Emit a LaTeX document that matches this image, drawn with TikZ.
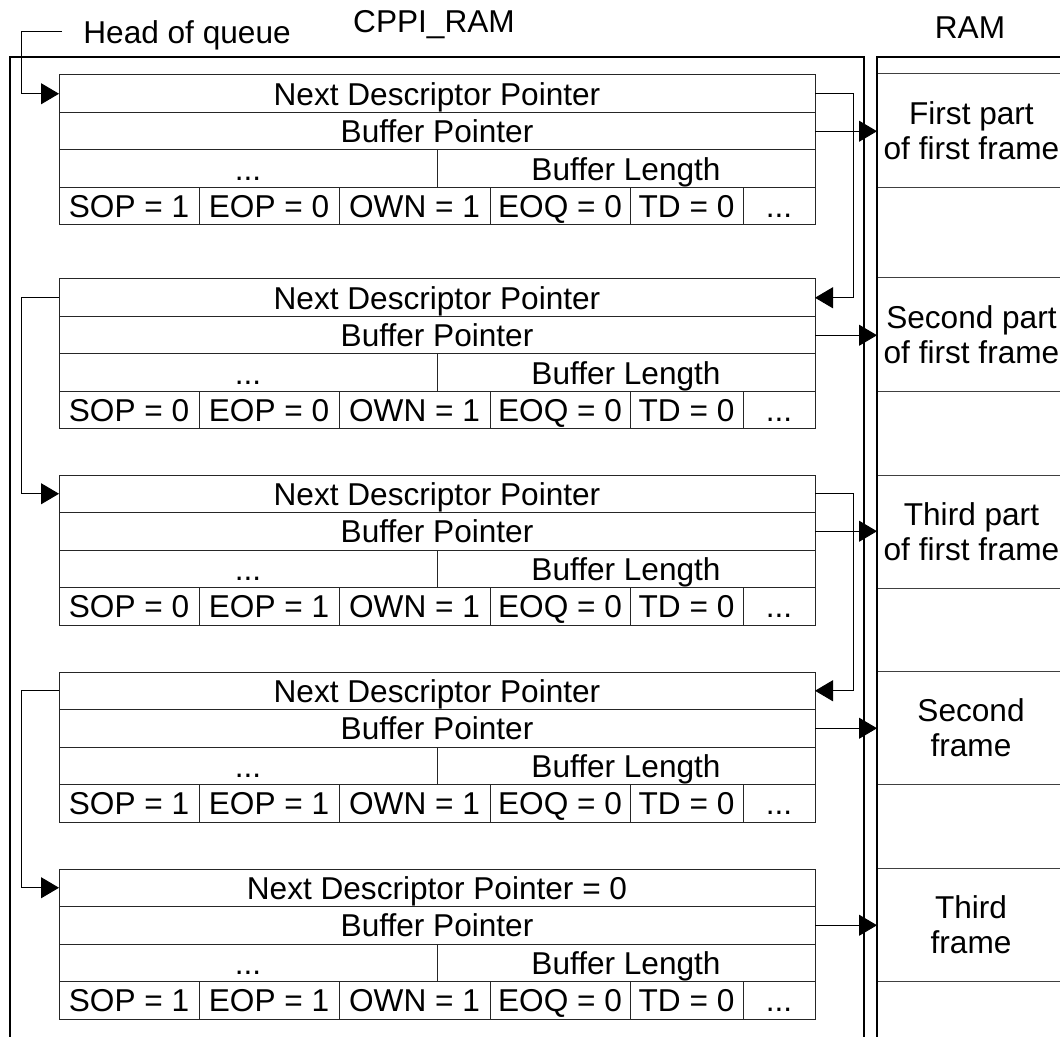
\documentclass[tikz,border=0pt]{standalone}
\usepackage{fontspec}
\setmainfont{Liberation Sans}
\usepackage{tikz}
\usetikzlibrary{arrows.meta,positioning}

\begin{document}
\begin{tikzpicture}[
		x=0.5pt, y=-0.5pt,
		font=\fontsize{15.8}{17.5}\selectfont,
		>={Triangle[length=9pt,width=10.5pt]},
		cell/.style={draw=black!85, line width=0.5pt, outer sep=0pt, inner sep=2pt, minimum height=18.75pt, text height=11.3pt, text depth=0pt},
		region/.style={draw=black!75, line width=0.5pt, outer sep=0pt, anchor=north west, minimum width=94pt, minimum height=56.75pt, align=center},
		wall/.style={draw, line width=1.25pt, outer sep=0pt, anchor=north west, minimum height=510pt},
		lbl/.style={inner sep=0pt},
		flow/.style={->, line width=0.5pt}
		]
		\clip (0,0) rectangle (1060,1037);
		
		\foreach \i/\top/\ndp/\sop/\eop in {1/75/{Next Descriptor Pointer}/1/0, 2/279/{Next Descriptor Pointer}/0/0, 3/475/{Next Descriptor Pointer}/0/1, 4/672/{Next Descriptor Pointer}/1/1, 5/869/{Next Descriptor Pointer = 0}/1/1}{
			\node[cell, minimum width=378pt, anchor=north west] (d\i-ndp) at (59,\top) {\ndp};
			\node[cell, minimum width=378pt, below=0pt of d\i-ndp] (d\i-bp) {Buffer Pointer};
			\node[cell, minimum width=189pt, anchor=north west] (d\i-dots) at (d\i-bp.south west) {...};
			\node[cell, minimum width=189pt, right=0pt of d\i-dots] (d\i-len) {Buffer Length};
			\node[cell, minimum width=70pt, anchor=north west] (d\i-sop) at (d\i-dots.south west) {SOP = \sop};
			\node[cell, minimum width=70pt, right=0pt of d\i-sop] (d\i-eop) {EOP = \eop};
			\node[cell, minimum width=75.5pt, right=0pt of d\i-eop] (d\i-own) {OWN = 1};
			\node[cell, minimum width=70pt, right=0pt of d\i-own] (d\i-eoq) {EOQ = 0};
			\node[cell, minimum width=56.5pt, right=0pt of d\i-eoq] (d\i-td) {TD = 0};
			\node[cell, minimum width=36pt, right=0pt of d\i-td] (d\i-more) {...};
		}
		
		\foreach \j/\top/\txt in {1/74/{First part\\of first frame}, 2/278/{Second part\\of first frame}, 3/475/{Third part\\of first frame}, 4/671/{Second\\frame}, 5/868/{Third\\frame}}{
			\node[region] (ram\j) at (877,\top) {\txt};
		}
		
		\node[wall, minimum width=427pt] (cppi) at (10,57) {};
		\node[wall, minimum width=120pt] (ram) at (877,57) {};
		
		\node[lbl, anchor=base] (cppilbl) at (434,33) {CPPI\_RAM};
		\node[lbl, anchor=base] (ramlbl) at (970,39) {RAM};
		\node[lbl, anchor=base west] (hq) at (83,44) {Head of queue};
		\coordinate (hqstart) at (62,32);
		
		\draw[flow] (hqstart) -- ++(-41,0) |- (d1-ndp.west);
		\draw[flow] (d1-ndp.east) -- ++(38,0) |- (d2-ndp.east);
		\draw[flow] (d2-ndp.west) -- ++(-38,0) |- (d3-ndp.west);
		\draw[flow] (d3-ndp.east) -- ++(38,0) |- (d4-ndp.east);
		\draw[flow] (d4-ndp.west) -- ++(-38,0) |- (d5-ndp.west);
		
		\draw[flow] (d1-bp.east) -- (d1-bp.east -| ram1.west);
		\draw[flow] (d2-bp.east) -- (d2-bp.east -| ram2.west);
		\draw[flow] (d3-bp.east) -- (d3-bp.east -| ram3.west);
		\draw[flow] (d4-bp.east) -- (d4-bp.east -| ram4.west);
		\draw[flow] (d5-bp.east) -- (d5-bp.east -| ram5.west);
	\end{tikzpicture}
\end{document}
